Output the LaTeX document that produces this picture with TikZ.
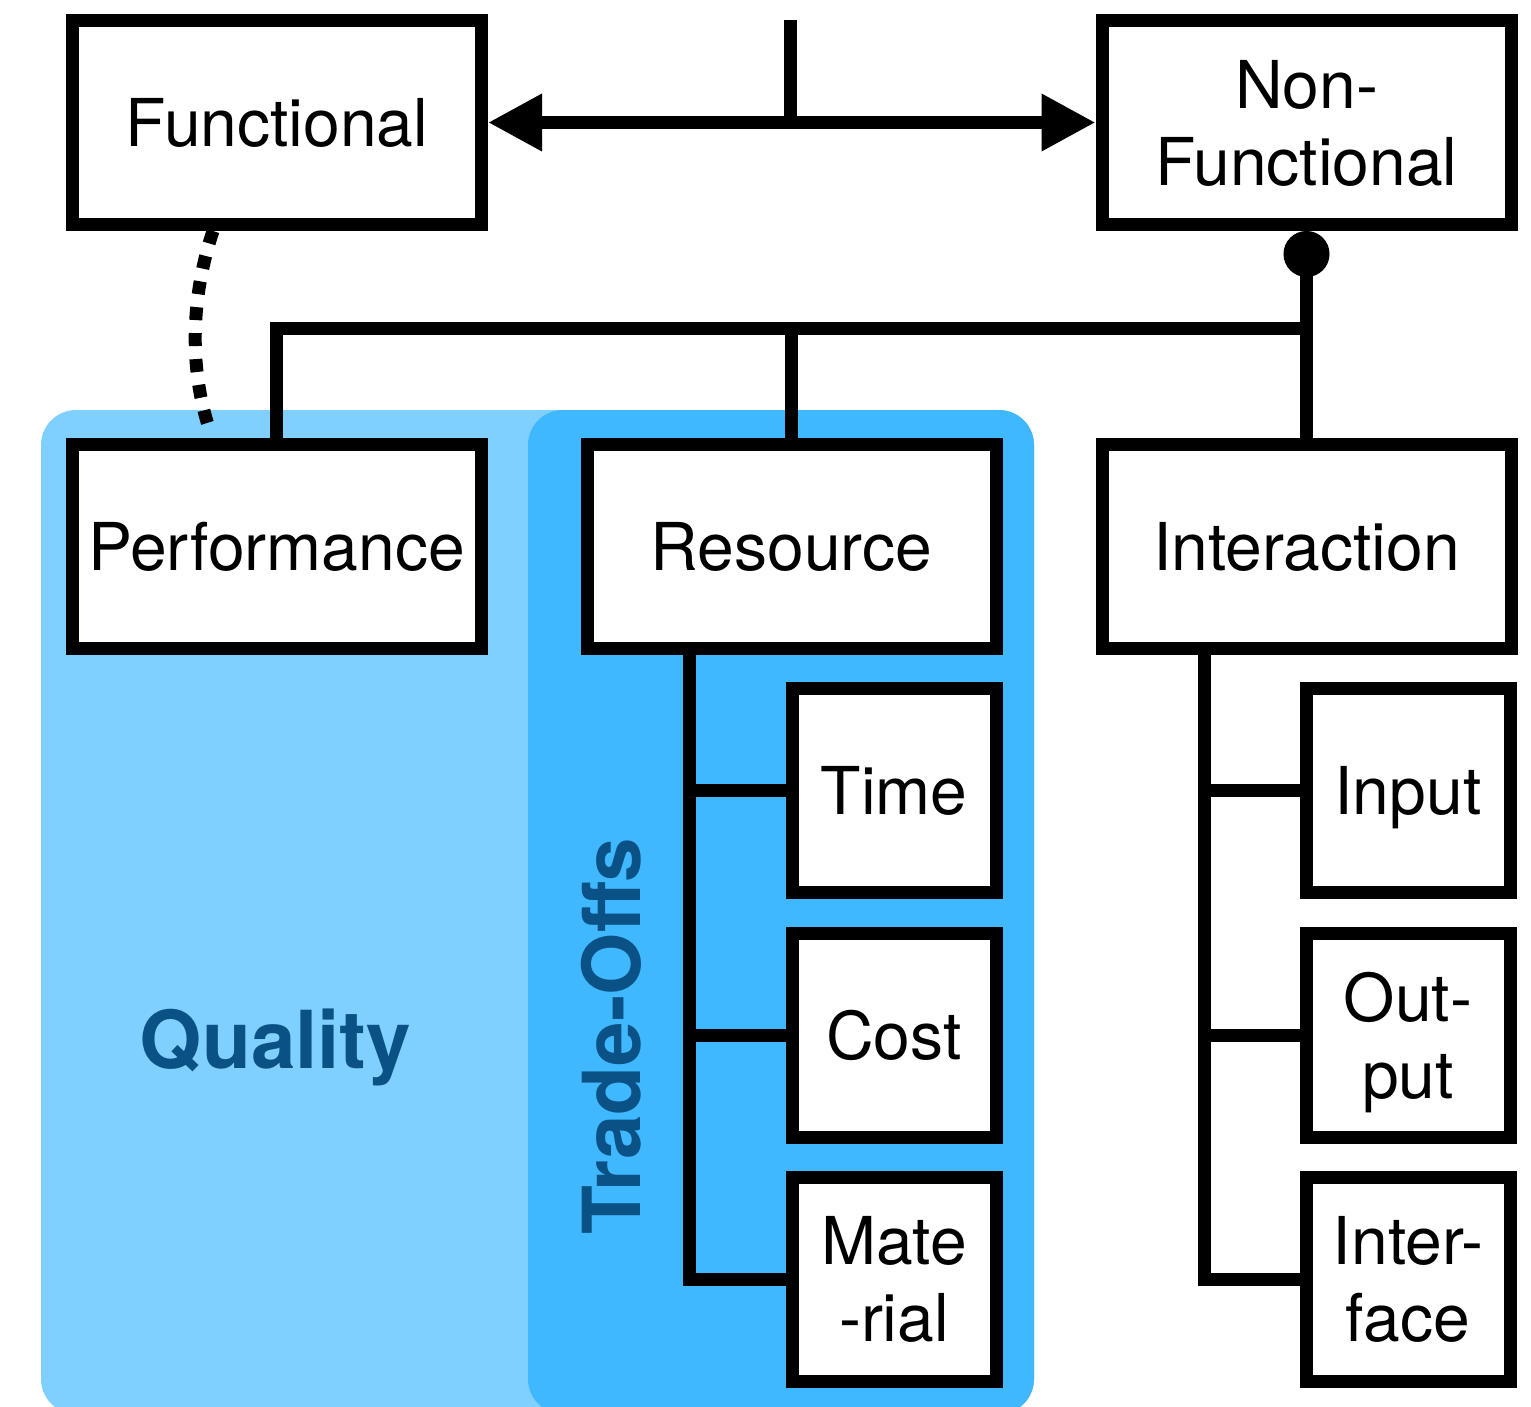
\documentclass[tikz,border=0pt]{standalone}
\usepackage{fontspec}
\setmainfont{TeX Gyre Heros}
\usetikzlibrary{arrows.meta}
\definecolor{qlight}{HTML}{80D0FF}
\definecolor{qdark}{HTML}{40B8FF}
\definecolor{qtext}{HTML}{0A5286}
\begin{document}
\begin{tikzpicture}[x=0.5pt,y=-0.5pt,
  bigbox/.style={draw, line width=6.5pt, fill=white, minimum width=204.5pt, minimum height=102pt, inner sep=0pt, align=center, text depth=0pt, font=\fontsize{33pt}{38.5pt}\selectfont},
  smallbox/.style={bigbox, minimum width=102pt},
  conn/.style={line width=6.5pt},
  grouplabel/.style={font=\fontsize{40pt}{44pt}\selectfont\bfseries, text=qtext, inner sep=0pt}]
\useasboundingbox (0,0) rectangle (1531,1407);
% backgrounds
\fill[qlight, rounded corners=17.5pt] (41,410) rectangle (1034,1414);
\fill[qdark, rounded corners=17.5pt] (528,410) rectangle (1034,1414);
% boxes
\node[bigbox] (func) at (277,122.5) {Functional};
\node[bigbox] (nf) at (1306.5,122.5) {Non-\\Functional};
\node[bigbox] (perf) at (276.5,546) {Performance};
\node[bigbox] (res) at (791.5,546) {Resource};
\node[bigbox] (inter) at (1306.5,546) {Interaction};
\node[smallbox] (time) at (894,790.5) {Time};
\node[smallbox] (cost) at (894,1035) {Cost};
\node[smallbox] (mat) at (894,1279) {Mate\\-rial};
\node[smallbox] (input) at (1408,790.5) {Input};
\node[smallbox] (output) at (1408,1035) {Out-\\put};
\node[smallbox] (iface) at (1408,1279) {Inter-\\face};
% labels
\node[grouplabel, anchor=base] (quality) at (275.5,1068) {Quality};
\node[grouplabel, rotate=90, anchor=base] (tradeoffs) at (640,1036) {Trade-Offs};
% top arrow
\draw[conn, {Triangle[length=27pt,width=27pt]}-{Triangle[length=27pt,width=27pt]}] (func.east) -- (nf.west);
\coordinate (top) at (790,20);
\draw[conn] (top) -- (top |- func.east);
% dotted curve
\coordinate (dotend) at (209,428);
\draw[line width=6.5pt, dash pattern=on 6.5pt off 6.5pt] ([xshift=-32pt]func.south) .. controls (190,300) and (190,370) .. (dotend);
% non-functional tree
\draw[conn, {Circle[length=23pt]}-] (nf.south) -- (inter.north);
\coordinate (jn) at (1306.5,328);
\draw[conn] (perf.north) |- (jn);
\draw[conn] (res.north) -- (res.north |- jn);
% resource tree
\coordinate (rt) at ([xshift=-51.25pt]res.south);
\draw[conn] (rt) |- (mat.west);
\draw[conn] (time.west) -- (time.west -| rt);
\draw[conn] (cost.west) -- (cost.west -| rt);
% interaction tree
\coordinate (it) at ([xshift=-51.25pt]inter.south);
\draw[conn] (it) |- (iface.west);
\draw[conn] (input.west) -- (input.west -| it);
\draw[conn] (output.west) -- (output.west -| it);
\end{tikzpicture}
\end{document}
